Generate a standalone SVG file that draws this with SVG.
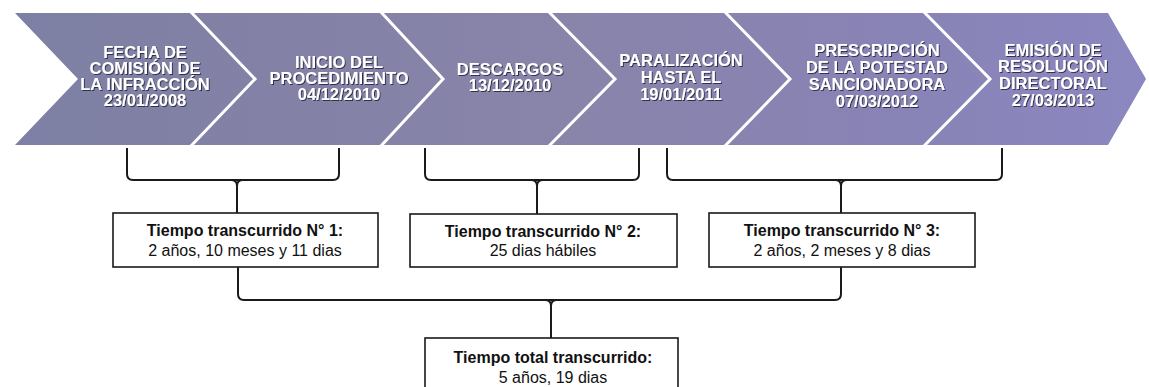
<svg xmlns="http://www.w3.org/2000/svg" width="1149" height="387" viewBox="0 0 1149 387">
<defs>
<linearGradient id="band" x1="0" y1="0" x2="1" y2="0">
<stop offset="0" stop-color="#7d80a4"/>
<stop offset="0.25" stop-color="#8481a6"/>
<stop offset="0.5" stop-color="#8884aa"/>
<stop offset="0.75" stop-color="#8883b4"/>
<stop offset="1" stop-color="#8b87c0"/>
</linearGradient>
<filter id="sh" x="-10%" y="-30%" width="120%" height="160%">
<feDropShadow dx="1" dy="1" stdDeviation="0.6" flood-color="#2a2840" flood-opacity="0.9"/>
</filter>
</defs>
<style>
.sep{fill:none;stroke:#ffffff;stroke-width:3}
.ct{font-family:"Liberation Sans",Arial,sans-serif;font-weight:bold;font-size:16.5px;fill:#ffffff;text-anchor:middle;filter:url(#sh)}
.box{fill:#ffffff;stroke:#1a1a1a;stroke-width:1.6}
.bt{font-family:"Liberation Sans",Arial,sans-serif;font-size:16px;fill:#111111;text-anchor:middle}
.b{font-weight:bold}
.ln{fill:none;stroke:#1a1a1a;stroke-width:2;stroke-linejoin:round}
</style>
<g id="band-bg">
<polygon points="15,13 1108,13 1146,79 1108,145 15,145 78,79" fill="url(#band)"/>
</g>
<g id="separators">
<polyline class="sep" points="190,11 255,79 190,147"/>
<polyline class="sep" points="380,11 443,79 380,147"/>
<polyline class="sep" points="548,11 615,79 548,147"/>
<polyline class="sep" points="724,11 790,79 724,147"/>
<polyline class="sep" points="923,11 990,79 923,147"/>
</g>
<g id="step1">
<text class="ct" x="145" y="58">FECHA DE</text>
<text class="ct" x="145" y="74">COMISIÓN DE</text>
<text class="ct" x="145" y="90">LA INFRACCIÓN</text>
<text class="ct" x="145" y="106">23/01/2008</text>
</g>
<g id="step2">
<text class="ct" x="339" y="68">INICIO DEL</text>
<text class="ct" x="339" y="84">PROCEDIMIENTO</text>
<text class="ct" x="339" y="100">04/12/2010</text>
</g>
<g id="step3">
<text class="ct" x="510" y="75">DESCARGOS</text>
<text class="ct" x="510" y="91">13/12/2010</text>
</g>
<g id="step4">
<text class="ct" x="681" y="66">PARALIZACIÓN</text>
<text class="ct" x="681" y="83">HASTA EL</text>
<text class="ct" x="681" y="100">19/01/2011</text>
</g>
<g id="step5">
<text class="ct" x="877" y="56">PRESCRIPCIÓN</text>
<text class="ct" x="877" y="73">DE LA POTESTAD</text>
<text class="ct" x="877" y="90">SANCIONADORA</text>
<text class="ct" x="877" y="107">07/03/2012</text>
</g>
<g id="step6">
<text class="ct" x="1053" y="56">EMISIÓN DE</text>
<text class="ct" x="1053" y="72">RESOLUCIÓN</text>
<text class="ct" x="1053" y="89">DIRECTORAL</text>
<text class="ct" x="1053" y="106">27/03/2013</text>
</g>
<g id="connectors">
<path class="ln" d="M127,148 V174 Q127,180 133,180 H333 Q339,180 339,174 V148"/>
<path class="ln" d="M231,180 Q237,180 237,186 V213 M243,180 Q237,180 237,186"/>
<path class="ln" d="M425,148 V174 Q425,180 431,180 H633 Q639,180 639,174 V148"/>
<path class="ln" d="M531,180 Q537,180 537,186 V214 M543,180 Q537,180 537,186"/>
<path class="ln" d="M667,148 V174 Q667,180 673,180 H996 Q1002,180 1002,174 V148"/>
<path class="ln" d="M835,180 Q841,180 841,186 V213 M847,180 Q841,180 841,186"/>
<path class="ln" d="M238,267 V294 Q238,300 244,300 H835 Q841,300 841,294 V267"/>
<path class="ln" d="M545,300 Q551,300 551,306 V338 M557,300 Q551,300 551,306"/>
</g>
<g id="box1">
<rect class="box" x="113" y="213" width="265" height="54"/>
<text class="bt b" x="245" y="236">Tiempo transcurrido N° 1:</text>
<text class="bt" x="245" y="256">2 años, 10 meses y 11 dias</text>
</g>
<g id="box2">
<rect class="box" x="410" y="214" width="267" height="53"/>
<text class="bt b" x="543" y="237">Tiempo transcurrido N° 2:</text>
<text class="bt" x="543" y="256">25 dias hábiles</text>
</g>
<g id="box3">
<rect class="box" x="709" y="213" width="266" height="54"/>
<text class="bt b" x="842" y="236">Tiempo transcurrido N° 3:</text>
<text class="bt" x="842" y="256">2 años, 2 meses y 8 dias</text>
</g>
<g id="box4">
<rect class="box" x="425" y="338" width="253" height="56"/>
<text class="bt b" x="553" y="363">Tiempo total transcurrido:</text>
<text class="bt" x="553" y="383">5 años, 19 dias</text>
</g>
</svg>
